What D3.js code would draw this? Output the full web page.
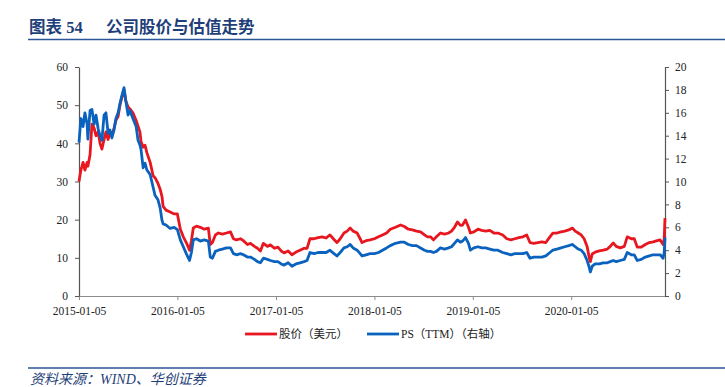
<!DOCTYPE html>
<html>
<head>
<meta charset="utf-8">
<script src="https://cdn.jsdelivr.net/npm/d3@7/dist/d3.min.js"></script>
<style>
  body { margin: 0; background: #fff; }
  svg { display: block; }
</style>
</head>
<body>
<div id="chart"></div>
<script>
// values (price in USD, PS TTM on right axis)
var dates = [
  "2015-01-05","2015-01-12","2015-01-20","2015-01-27","2015-02-04","2015-02-07","2015-02-15","2015-02-22",
  "2015-03-02","2015-03-09","2015-03-17","2015-03-24","2015-03-31","2015-04-08","2015-04-15","2015-04-23",
  "2015-04-30","2015-05-07","2015-05-15","2015-05-22","2015-05-30","2015-06-06","2015-06-13","2015-06-21",
  "2015-06-28","2015-07-06","2015-07-13","2015-07-24","2015-08-05","2015-08-12","2015-08-19","2015-08-23",
  "2015-08-31","2015-09-07","2015-09-14","2015-09-26","2015-10-07","2015-10-14","2015-10-25","2015-11-02",
  "2015-11-09","2015-11-13","2015-11-24","2015-12-09","2015-12-24","2016-01-05","2016-01-16","2016-01-27",
  "2016-02-07","2016-02-19","2016-02-26","2016-03-04","2016-03-16","2016-03-30","2016-04-14","2016-04-29",
  "2016-05-06","2016-05-14","2016-05-25","2016-06-05","2016-06-20","2016-07-05","2016-07-20","2016-07-31",
  "2016-08-11","2016-08-26","2016-09-06","2016-09-21","2016-10-02","2016-10-17","2016-10-28","2016-11-08",
  "2016-11-19","2016-12-04","2016-12-15","2016-12-30","2017-01-12","2017-01-24","2017-02-04","2017-02-19",
  "2017-03-05","2017-03-20","2017-04-04","2017-04-19","2017-04-30","2017-05-11","2017-05-26","2017-06-10",
  "2017-06-25","2017-07-10","2017-07-24","2017-08-08","2017-08-19","2017-08-31","2017-09-14","2017-09-26",
  "2017-10-07","2017-10-18","2017-11-02","2017-11-13","2017-11-20","2017-12-05","2017-12-20","2018-01-05",
  "2018-01-20","2018-02-04","2018-02-19","2018-03-05","2018-03-24","2018-04-12","2018-04-26","2018-05-11",
  "2018-05-26","2018-06-10","2018-06-25","2018-07-10","2018-07-21","2018-08-01","2018-08-12","2018-08-23",
  "2018-09-07","2018-09-22","2018-10-07","2018-10-18","2018-10-29","2018-11-09","2018-11-20","2018-11-28",
  "2018-12-09","2018-12-20","2018-12-27","2019-01-09","2019-01-24","2019-02-07","2019-02-22","2019-03-09",
  "2019-03-24","2019-04-08","2019-04-26","2019-05-11","2019-05-26","2019-06-10","2019-06-25","2019-07-10",
  "2019-07-24","2019-08-05","2019-08-19","2019-09-03","2019-09-18","2019-10-03","2019-10-18","2019-10-29",
  "2019-11-13","2019-11-28","2019-12-12","2019-12-27","2020-01-09","2020-01-20","2020-01-31","2020-02-11",
  "2020-02-22","2020-03-04","2020-03-12","2020-03-16","2020-03-23","2020-04-03","2020-04-18","2020-05-03",
  "2020-05-18","2020-05-29","2020-06-09","2020-06-20","2020-07-05","2020-07-20","2020-07-31","2020-08-15",
  "2020-08-26","2020-09-06","2020-09-21","2020-10-06","2020-10-21","2020-11-04","2020-11-19","2020-11-30",
  "2020-12-11","2020-12-15","2020-12-18"
];

var price = [
  30, 33, 35, 33, 35, 34, 37, 45,
  44, 42, 43, 40, 38.5, 41, 43, 41,
  43, 42, 44, 46, 47, 50, 52, 54,
  51, 49.5, 49, 48, 46, 44.5, 43, 40.5,
  39, 39.5, 37.5, 35, 31.5, 31, 29.5, 28,
  26, 23.5, 22.5, 22, 21.5, 21.5, 17.5, 15.5,
  14, 12, 14.5, 17.8, 18.3, 18, 17.5, 17.8,
  13.5, 14, 16, 16.5, 16.2, 16.5, 16.8, 15,
  14.7, 15, 14.5, 13.5, 13.8, 13, 12.5, 11.8,
  13.8, 13, 13.4, 12.5, 12.8, 11.8, 11.3, 11.8,
  10.8, 11.5, 12, 12.5, 12.5, 15, 15, 15.3,
  15.5, 15.2, 16, 14.8, 14, 15, 16.5, 17,
  17.8, 17, 16.5, 15, 14, 14.5, 14.7, 15,
  15.5, 16, 16.5, 17.5, 18, 18.6, 18.2, 17.5,
  17.3, 17, 16.8, 16, 15.5, 15.5, 14.7, 15.5,
  16.5, 16.2, 16.5, 17, 18, 19.4, 18.5, 18.6,
  19.9, 18, 16.5, 16.8, 17.5, 17.2, 17, 17.2,
  16.5, 16.5, 16, 15, 14.7, 15, 15.3, 15.5,
  16, 14, 13.8, 14, 14.2, 14, 15.5, 16.5,
  16.5, 16.8, 17, 17.3, 17.8, 17, 16.5, 16,
  15, 13, 10, 9, 11, 11.5, 11.8, 12,
  12.3, 13, 13.9, 13, 12.6, 13, 15.5, 15,
  15, 12.8, 12.8, 13.5, 14, 14.2, 14.5, 14.7,
  13.5, 15, 20.4
];

var ps = [
  13.4, 15.5, 14.8, 16, 15, 13.7, 16.2, 16.3,
  15, 15.8, 14.6, 14, 13.6, 15.8, 16, 14.2,
  14.5, 13.8, 14.5, 15.5, 16, 16.8, 17.5, 18.2,
  17, 15.8, 16.2, 15.5, 14.8, 13.6, 13.2, 12.8,
  11.2, 11.6, 11, 10.6, 9.5, 8.8, 8.4, 7.7,
  6.6, 6.3, 6.2, 5.9, 6, 5.8, 4.9, 4.3,
  3.7, 3.1, 3.8, 4.9, 5, 4.8, 4.9, 4.8,
  3.4, 3.3, 3.9, 4, 4.1, 4.2, 4.2, 3.7,
  3.6, 3.7, 3.6, 3.4, 3.4, 3.2, 3, 2.9,
  3.3, 3.2, 3.1, 3, 3, 2.8, 2.7, 2.9,
  2.6, 2.8, 2.9, 3, 3.1, 3.8, 3.7, 3.8,
  3.8, 3.8, 4, 3.7, 3.5, 3.8, 4.2, 4.3,
  4.5, 4.2, 4, 3.7, 3.5, 3.6, 3.7, 3.7,
  3.8, 4, 4.2, 4.4, 4.6, 4.7, 4.7, 4.5,
  4.4, 4.4, 4.2, 4, 3.9, 3.9, 3.8, 3.9,
  4.2, 4.1, 4.2, 4.3, 4.6, 4.9, 4.7, 4.8,
  5.1, 4.6, 4, 4.2, 4.3, 4.2, 4.2, 4.1,
  4, 4, 3.8, 3.7, 3.6, 3.7, 3.7, 3.7,
  3.8, 3.3, 3.4, 3.4, 3.4, 3.5, 3.8, 4,
  4.1, 4.2, 4.3, 4.4, 4.5, 4.3, 4.1, 4,
  3.7, 3.1, 2.5, 2.1, 2.6, 2.8, 2.8, 2.9,
  2.9, 3, 3.1, 3, 3.1, 3.2, 3.8, 3.6,
  3.6, 3.1, 3.2, 3.4, 3.5, 3.6, 3.6, 3.6,
  3.3, 3.8, 5.1
];

var xTickDates = ["2015-01-05","2016-01-05","2017-01-05","2018-01-05","2019-01-05","2020-01-05"];
var leftTicks = [0, 10, 20, 30, 40, 50, 60];
var rightTicks = [0, 2, 4, 6, 8, 10, 12, 14, 16, 18, 20];

var seriesNames = ["股价（美元）", "PS（TTM）（右轴）"];
var titleText = ["图表 54", "公司股价与估值走势"];
var sourceText = "资料来源：WIND、华创证券";

var width = 725, height = 387;
var plot = { left: 79, right: 665, top: 67, bottom: 296 };
var red = "#e8161f", blue = "#0a62bf", navy = "#1f3f7a";
var numFont = "'Liberation Serif', 'Times New Roman', serif";
// latin glyphs come from the serif face, chinese falls back to Noto CJK
var mixFont = "'Liberation Serif', 'Noto Sans CJK SC', serif";

var parse = d3.timeParse("%Y-%m-%d");

var svg = d3.select("#chart").append("svg")
  .attr("width", width)
  .attr("height", height);

// title + rule
var title = svg.append("text")
  .attr("x", 29)
  .attr("y", 33)
  .attr("fill", navy)
  .style("font-family", mixFont)
  .style("font-weight", "bold")
  .style("font-size", "16.5px");
title.append("tspan").text(titleText[0]);
title.append("tspan").attr("x", 106).text(titleText[1]);

svg.append("line")
  .attr("x1", 28).attr("x2", width)
  .attr("y1", 39.5).attr("y2", 39.5)
  .attr("stroke", "#2a5597")
  .attr("stroke-width", 1.5);

// scales
var x = d3.scaleTime()
  .domain([parse(dates[0]), parse(dates[dates.length - 1])])
  .range([plot.left, plot.right]);

var yLeft = d3.scaleLinear().domain([0, 60]).range([plot.bottom, plot.top]);
var yRight = d3.scaleLinear().domain([0, 20]).range([plot.bottom, plot.top]);

// axes
var xAxis = d3.axisBottom(x)
  .tickValues(xTickDates.map(parse))
  .tickFormat(d3.timeFormat("%Y-%m-%d"))
  .tickSize(4)
  .tickPadding(5);

var leftAxis = d3.axisLeft(yLeft).tickValues(leftTicks).tickSize(4).tickPadding(7);
var rightAxis = d3.axisRight(yRight).tickValues(rightTicks).tickSize(4).tickPadding(6);

function styleAxis(g, color) {
  g.select(".domain").attr("stroke", color).attr("stroke-width", 1.2);
  g.selectAll(".tick line").attr("stroke", color).attr("stroke-width", 1);
  g.selectAll(".tick text")
    .attr("fill", "#222")
    .style("font-family", numFont)
    .style("font-size", "11.5px");
}

var gx = svg.append("g")
  .attr("transform", "translate(0," + plot.bottom + ")")
  .call(xAxis.tickSizeOuter(0))
  .call(styleAxis, "#8c8c8c");
gx.selectAll(".tick text").attr("dy", "0.9em");

svg.append("g")
  .attr("transform", "translate(" + plot.left + ",0)")
  .call(leftAxis.tickSizeOuter(0))
  .call(styleAxis, "#555");

svg.append("g")
  .attr("transform", "translate(" + plot.right + ",0)")
  .call(rightAxis.tickSizeOuter(0))
  .call(styleAxis, "#555");

// lines
var rows = dates.map(function(d, i) {
  return { date: parse(d), price: price[i], ps: ps[i] };
});

var priceLine = d3.line()
  .x(function(d) { return x(d.date); })
  .y(function(d) { return yLeft(d.price); });

var psLine = d3.line()
  .x(function(d) { return x(d.date); })
  .y(function(d) { return yRight(d.ps); });

svg.append("path")
  .datum(rows)
  .attr("d", priceLine)
  .attr("fill", "none")
  .attr("stroke", red)
  .attr("stroke-width", 2.8)
  .attr("stroke-linejoin", "round");

svg.append("path")
  .datum(rows)
  .attr("d", psLine)
  .attr("fill", "none")
  .attr("stroke", blue)
  .attr("stroke-width", 2.8)
  .attr("stroke-linejoin", "round");

// legend
var legendItems = [
  { name: seriesNames[0], color: red, x: 245 },
  { name: seriesNames[1], color: blue, x: 367 }
];

var legend = svg.selectAll("g.legend")
  .data(legendItems)
  .enter().append("g")
  .classed("legend", true)
  .attr("transform", function(d) { return "translate(" + d.x + ",334)"; });

legend.append("line")
  .attr("x1", 0).attr("x2", 32)
  .attr("stroke", function(d) { return d.color; })
  .attr("stroke-width", 2.8);

legend.append("text")
  .attr("x", 34)
  .attr("y", 4)
  .attr("fill", "#222")
  .style("font-family", mixFont)
  .style("font-size", "11.5px")
  .text(function(d) { return d.name; });

// source footer
svg.append("line")
  .attr("x1", 28).attr("x2", width)
  .attr("y1", 368).attr("y2", 368)
  .attr("stroke", "#2a5597")
  .attr("stroke-width", 1.5);

svg.append("text")
  .attr("x", 30)
  .attr("y", 384)
  .attr("fill", navy)
  .style("font-family", mixFont)
  .style("font-style", "italic")
  .style("font-size", "14px")
  .text(sourceText);
</script>
</body>
</html>
